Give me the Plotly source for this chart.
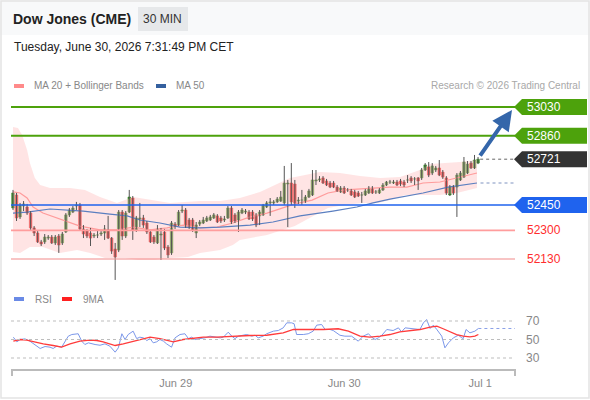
import plotly.graph_objects as go

# ---- candles, 30 min bars (index 0 = first bar on the chart) ----
opens = [
    52432, 52509, 52379, 52444, 52438, 52402, 52314, 52284, 52231, 52231,
    52254, 52260, 52225, 52266, 52225, 52290, 52391, 52408, 52444, 52450,
    52308, 52296, 52284, 52266, 52272, 52278, 52284, 52302, 52254, 52189,
    52183, 52408, 52266, 52408, 52491, 52302, 52367, 52373, 52343, 52290,
    52260, 52225, 52272, 52290, 52201, 52166, 52337, 52331, 52414, 52420,
    52361, 52361, 52284, 52337, 52343, 52355, 52361, 52373, 52385, 52373,
    52361, 52373, 52432, 52391, 52361, 52402, 52408, 52408, 52408, 52391,
    52385, 52391, 52438, 52462, 52462, 52468, 52473, 52462, 52574, 52580,
    52574, 52473, 52479, 52468, 52497, 52509, 52592, 52598, 52610, 52592,
    52580, 52580, 52556, 52527, 52550, 52539, 52533, 52527, 52521, 52509,
    52509, 52521, 52550, 52527, 52521, 52539, 52568, 52586, 52580, 52586,
    52592, 52586, 52598, 52610, 52604, 52610, 52610, 52657, 52675, 52639,
    52657, 52669, 52645, 52610, 52509, 52556, 52556, 52598, 52615, 52639,
    52698, 52669, 52698]
highs = [
    52539, 52521, 52462, 52473, 52456, 52414, 52325, 52296, 52243, 52278,
    52272, 52272, 52272, 52278, 52290, 52402, 52432, 52444, 52468, 52462,
    52331, 52308, 52314, 52284, 52296, 52302, 52331, 52385, 52260, 52225,
    52420, 52420, 52414, 52539, 52503, 52385, 52462, 52391, 52355, 52302,
    52272, 52331, 52314, 52308, 52213, 52355, 52349, 52420, 52450, 52432,
    52373, 52373, 52349, 52361, 52379, 52385, 52391, 52402, 52396, 52385,
    52385, 52444, 52444, 52402, 52420, 52432, 52426, 52420, 52420, 52402,
    52420, 52456, 52473, 52491, 52479, 52497, 52533, 52681, 52598, 52698,
    52598, 52497, 52539, 52509, 52545, 52657, 52657, 52621, 52621, 52604,
    52592, 52592, 52568, 52562, 52562, 52550, 52545, 52539, 52533, 52527,
    52545, 52562, 52562, 52539, 52550, 52580, 52592, 52598, 52598, 52598,
    52604, 52598, 52627, 52621, 52615, 52615, 52669, 52698, 52704, 52698,
    52681, 52716, 52657, 52621, 52568, 52568, 52639, 52651, 52734, 52710,
    52710, 52746, 52734]
lows = [
    52420, 52355, 52367, 52414, 52391, 52302, 52266, 52225, 52207, 52219,
    52243, 52219, 52213, 52166, 52213, 52284, 52379, 52402, 52420, 52296,
    52254, 52254, 52207, 52254, 52254, 52266, 52243, 52248, 52160, 52006,
    52171, 52243, 52254, 52402, 52243, 52290, 52319, 52314, 52278, 52225,
    52219, 52219, 52124, 52183, 52136, 52154, 52308, 52325, 52402, 52314,
    52308, 52290, 52254, 52325, 52337, 52349, 52355, 52367, 52343, 52343,
    52349, 52367, 52337, 52343, 52290, 52396, 52396, 52361, 52355, 52319,
    52331, 52385, 52432, 52385, 52450, 52462, 52468, 52450, 52319, 52450,
    52432, 52456, 52450, 52462, 52491, 52503, 52568, 52586, 52574, 52562,
    52550, 52550, 52527, 52521, 52515, 52527, 52503, 52491, 52497, 52462,
    52503, 52515, 52515, 52515, 52515, 52533, 52562, 52574, 52574, 52562,
    52562, 52556, 52580, 52580, 52568, 52539, 52598, 52651, 52615, 52627,
    52645, 52621, 52604, 52509, 52503, 52509, 52379, 52592, 52610, 52633,
    52663, 52663, 52692]
closes = [
    52521, 52373, 52450, 52456, 52402, 52314, 52284, 52231, 52219, 52260,
    52260, 52225, 52260, 52213, 52278, 52391, 52420, 52432, 52450, 52308,
    52278, 52266, 52254, 52272, 52272, 52284, 52308, 52254, 52177, 52142,
    52408, 52266, 52402, 52497, 52302, 52373, 52373, 52331, 52290, 52231,
    52231, 52308, 52278, 52195, 52154, 52343, 52325, 52408, 52420, 52325,
    52319, 52302, 52331, 52349, 52361, 52373, 52379, 52391, 52349, 52355,
    52367, 52432, 52349, 52355, 52408, 52420, 52414, 52367, 52367, 52331,
    52408, 52450, 52462, 52468, 52468, 52485, 52497, 52580, 52580, 52468,
    52462, 52479, 52479, 52497, 52533, 52598, 52598, 52604, 52580, 52568,
    52556, 52556, 52533, 52550, 52521, 52539, 52509, 52497, 52503, 52509,
    52533, 52550, 52521, 52527, 52539, 52568, 52586, 52586, 52586, 52568,
    52574, 52568, 52598, 52592, 52604, 52592, 52657, 52687, 52627, 52681,
    52669, 52627, 52615, 52521, 52556, 52521, 52627, 52639, 52704, 52692,
    52669, 52716, 52721]

# ---- Bollinger bands (MA 20) and MA 50, read at bar positions ----
bb_upper_x = [0, 1.4, 2.6, 4, 4.8, 6.2, 7.7, 10.5, 16.2, 20.4, 24.7, 29.5, 34.1, 38.9, 44.6, 48.8, 53.1,
              58.8, 64.4, 70.1, 74.4, 78.6, 81.5, 87.1, 92.8, 98.5, 104.2, 109.9, 115.5, 118.4, 122.6,
              126.9, 131.7]
bb_upper = [52912, 52906, 52864, 52775, 52698, 52610, 52568, 52550, 52550, 52539, 52497, 52462, 52497,
            52479, 52462, 52468, 52473, 52473, 52491, 52527, 52568, 52610, 52621, 52645, 52639, 52621,
            52610, 52615, 52657, 52692, 52698, 52704, 52716]
bb_lower_x = [0, 2, 4.8, 8.5, 13.3, 18.2, 21.9, 26.1, 31.8, 35.5, 40.3, 45.1, 49.7, 53.1, 58.8, 62.4,
              64.4, 72.1, 80, 84.9, 89.4, 94.2, 99.1, 103.6, 107, 111.3, 115.5, 121.2, 126, 131.7]
bb_lower = [52171, 52166, 52201, 52201, 52166, 52183, 52166, 52136, 52136, 52124, 52124, 52136, 52142,
            52166, 52183, 52213, 52243, 52272, 52325, 52379, 52432, 52450, 52462, 52462, 52479, 52509,
            52509, 52509, 52521, 52550]
ma20_x = [0, 2, 4, 5.7, 8.5, 12.5, 15.3, 19, 24.7, 29.5, 34.1, 38.9, 43.7, 48.3, 53.1, 57.9, 62.4,
          67.3, 72.1, 76.6, 80, 84.9, 89.4, 94.2, 99.1, 103.6, 107, 111.8, 116.4, 121.2, 126, 129.7, 131.7]
ma20 = [52527, 52521, 52491, 52438, 52402, 52373, 52349, 52325, 52302, 52302, 52319, 52302, 52314,
        52331, 52314, 52319, 52343, 52379, 52402, 52432, 52456, 52479, 52521, 52539, 52545, 52550,
        52556, 52556, 52580, 52586, 52610, 52627, 52639]
ma50_x = [0, 4, 10.5, 19.9, 27.5, 32.4, 36, 41.7, 47.4, 53.1, 58.8, 67.3, 73.8, 81.5, 90.8, 97.6,
          102.2, 107, 116.4, 123.5, 131.7]
ma50 = [52402, 52408, 52426, 52414, 52396, 52385, 52361, 52343, 52319, 52314, 52319, 52331, 52349,
        52385, 52414, 52438, 52462, 52485, 52521, 52556, 52580]

# ---- RSI and its 9 period MA ----
rsi_x = [0.1, 1.1, 2, 3.4, 4.8, 6.2, 7.7, 9.1, 10.5, 11.4, 12.4, 13.8, 14.8, 15.7, 16.7, 18.5, 19.5,
         20.4, 21.4, 22.3, 23.3, 24.7, 26.1, 27.5, 29, 29.9, 30.9, 31.8, 32.7, 34.1, 35.1, 36, 37, 38,
         38.9, 39.8, 40.8, 41.7, 42.7, 43.6, 45, 46, 47.4, 48.8, 49.8, 50.7, 51.7, 53.1, 54.5, 55.9,
         57.3, 58.8, 59.7, 61.1, 62.1, 63, 64, 64.9, 66.3, 67.8, 68.7, 69.6, 71, 72, 72.9, 73.9, 75.3,
         76.7, 77.7, 79.1, 79.8, 80.5, 82.4, 83.8, 85.2, 86.2, 87.6, 88.6, 90, 90.9, 92.8, 94.2, 96.1,
         98, 99.4, 100.9, 101.8, 102.8, 103.7, 104.7, 106.1, 107.9, 109.4, 110.3, 111.3, 113.2, 115.5,
         116.5, 117.4, 118.4, 119.3, 120.3, 121.7, 122.6, 123.6, 125, 126.4, 127.4, 127.8, 128.6,
         129.7, 131.1, 132.1]
rsi = [52.5, 47.5, 50, 50.7, 48.2, 44.6, 40.3, 42.4, 41.7, 40.3, 42.8, 41.7, 47.5, 53.6, 55.4, 56.2,
       48.2, 44.6, 46.4, 45.3, 44.6, 43.8, 45.3, 42.8, 36.3, 41, 56.2, 50, 55.4, 59, 51, 52.5, 51.8,
       48.9, 51, 46.4, 47.5, 50, 48.2, 45.3, 41.7, 51.8, 55.4, 56.2, 51, 52.5, 50, 51, 51.8, 53.6,
       52.5, 51.8, 52.5, 57.9, 53.6, 51, 53.6, 54.6, 55.4, 53.6, 54.6, 51.8, 53.6, 56.2, 57.2, 59,
       59.7, 62.6, 68, 68, 67, 55.4, 55.4, 56.2, 59, 65.5, 66.2, 60.8, 60.8, 59.7, 54.6, 53.6, 53.6,
       48.2, 53.6, 56.2, 52.5, 50, 51.8, 54.6, 60.8, 59.7, 62.6, 58.3, 62.6, 61.9, 60.8, 68, 71.6,
       61.9, 65.5, 60.8, 53.6, 41, 46.4, 51.8, 54.6, 51.8, 51, 60.8, 57.2, 59, 61.9]
rsi_ma_x = [0.1, 2, 3.9, 5.8, 8.6, 11.4, 13.8, 16.2, 19, 21.9, 23.8, 25.6, 29, 31.3, 34.1, 37, 38.9,
            41.7, 45.5, 48.3, 51.2, 54, 57.8, 62.5, 67.3, 72, 76.7, 79.6, 83.4, 88.1, 92.3, 95.2,
            98.5, 101.3, 104.2, 107, 109.8, 112.7, 115.5, 118.4, 120.3, 122.1, 124, 125.9, 127.8,
            129.7, 131.1, 132.1]
rsi_ma = [48.2, 50, 49.3, 47.5, 45.3, 43.5, 41.7, 45.3, 48.2, 49.3, 48.9, 47.5, 43.5, 45.3, 48.2, 51,
          52.5, 51, 47.5, 50, 51, 52.5, 52.5, 53.6, 54.3, 54.6, 57.2, 61, 60.8, 60.8, 61.6, 59, 53.6,
          52.5, 53.6, 55.4, 58.3, 59.7, 60.8, 63.3, 64.4, 61.6, 58.3, 55.4, 53.6, 52.9, 53.6, 55.4]
rsi_levels = [70, 50, 30]

# ---- key levels and time axis ----
resistances = [53030, 52860]
pivot = 52450
supports = [52300, 52130]
tick_pos = [46.2, 94, 132.6]
tick_labels = ['Jun 29', 'Jun 30', 'Jul 1']

# ---- page geometry (590 x 400, margins are zero so paper == pixels) ----
W, H = 590, 400
FONT = 'Liberation Sans, Arial, sans-serif'
X0_PX, STEP = 13, 3.523            # first bar at x=13 px, 3.523 px per bar
Y_REF_PX, Y_REF_P, PPX = 107, 53030, 5.921   # price per pixel


def ix(px):
    return (px - X0_PX) / STEP


def price_at(py):
    return Y_REF_P - (py - Y_REF_PX) * PPX


def rsi_at(py):
    return 70 - (py - 321) / 0.925


def yp(py):
    return 1 - py / H


def xp(px):
    return px / W


GREEN_LVL = '#4da20c'
BLUE_LVL = '#1f63ee'
LINE_END = ix(515)
LINE_START = ix(11)

idx = list(range(len(closes)))
body_col = ['#2f8a1f' if c >= o else '#e01b1b' for o, c in zip(opens, closes)]

wick_x, wick_y = [], []
for i, lo, hi in zip(idx, lows, highs):
    wick_x += [i, i, None]
    wick_y += [lo, hi, None]

fig = go.Figure()

# bollinger band area
fig.add_trace(go.Scatter(x=bb_upper_x, y=bb_upper, mode='lines', line=dict(width=0),
                         hoverinfo='skip'))
fig.add_trace(go.Scatter(x=bb_lower_x, y=bb_lower, mode='lines', line=dict(width=0),
                         fill='tonexty', fillcolor='rgba(255,190,190,0.42)', hoverinfo='skip'))
fig.add_trace(go.Scatter(x=ma20_x, y=ma20, mode='lines', line=dict(color='#ff9b9b', width=1.2)))
fig.add_trace(go.Scatter(x=ma50_x, y=ma50, mode='lines', line=dict(color='#5b7fc0', width=1.2)))

# candles: wicks then bodies
fig.add_trace(go.Scatter(x=wick_x, y=wick_y, mode='lines', line=dict(color='#555555', width=1)))
fig.add_trace(go.Bar(x=idx, y=[c - o for o, c in zip(opens, closes)], base=opens, width=0.72,
                     marker=dict(color=body_col, line=dict(color=body_col, width=0.6))))

# RSI panel
fig.add_trace(go.Scatter(x=rsi_x, y=rsi, mode='lines', line=dict(color='#7b97ea', width=1),
                         xaxis='x2', yaxis='y2'))
fig.add_trace(go.Scatter(x=rsi_ma_x, y=rsi_ma, mode='lines', line=dict(color='#ff3b3b', width=1.3),
                         xaxis='x2', yaxis='y2'))

shapes = []
annotations = []

# page frame and header band
shapes.append(dict(type='rect', xref='paper', yref='paper', x0=0, x1=1, y0=yp(35), y1=1,
                   fillcolor='#f8f9fa', line=dict(width=0), layer='below'))
shapes.append(dict(type='rect', xref='paper', yref='paper', x0=xp(1), x1=xp(589), y0=yp(398), y1=yp(1),
                   line=dict(color='#e4e4e4', width=1.5), layer='above'))
shapes.append(dict(type='rect', xref='paper', yref='paper', x0=xp(138), x1=xp(188), y0=yp(31), y1=yp(7),
                   fillcolor='#e6e8ea', line=dict(width=0), layer='below'))

annotations += [
    dict(text='<b>Dow Jones (CME)</b>', x=xp(11), y=yp(19), xref='paper', yref='paper',
         xanchor='left', yanchor='middle', showarrow=False, font=dict(size=14, color='#222')),
    dict(text='30 MIN', x=xp(163), y=yp(19), xref='paper', yref='paper',
         xanchor='center', yanchor='middle', showarrow=False, font=dict(size=12, color='#333')),
    dict(text='Tuesday, June 30, 2026 7:31:49 PM CET', x=xp(12), y=yp(47), xref='paper', yref='paper',
         xanchor='left', yanchor='middle', showarrow=False, font=dict(size=12, color='#222')),
    dict(text='Research © 2026 Trading Central', x=xp(582), y=yp(86), xref='paper', yref='paper',
         xanchor='right', yanchor='middle', showarrow=False, font=dict(size=10, color='#a8a8a8')),
]

# legends
for x0, col, label in [(14, '#ff8a8a', 'MA 20 + Bollinger Bands'), (156, '#34609f', 'MA 50')]:
    shapes.append(dict(type='rect', xref='paper', yref='paper', x0=xp(x0), x1=xp(x0 + 10),
                       y0=yp(88), y1=yp(84), fillcolor=col, line=dict(width=0)))
    annotations.append(dict(text=label, x=xp(x0 + 18), y=yp(86), xref='paper', yref='paper',
                            xanchor='left', yanchor='middle', showarrow=False,
                            font=dict(size=10, color='#888')))
for x0, col, label in [(14, '#6a8ae6', 'RSI'), (62, '#ff2020', '9MA')]:
    shapes.append(dict(type='rect', xref='paper', yref='paper', x0=xp(x0), x1=xp(x0 + 10),
                       y0=yp(301), y1=yp(297), fillcolor=col, line=dict(width=0)))
    annotations.append(dict(text=label, x=xp(x0 + 19), y=yp(299), xref='paper', yref='paper',
                            xanchor='left', yanchor='middle', showarrow=False,
                            font=dict(size=10, color='#888')))


def hline(y, color, width, dash='solid', x0=LINE_START, x1=LINE_END, xref='x', yref='y'):
    return dict(type='line', xref=xref, yref=yref, x0=x0, x1=x1, y0=y, y1=y,
                line=dict(color=color, width=width, dash=dash), layer='above')


def tag(price, color):
    # arrow shaped price label on the right edge
    h = 8 * PPX
    tip, left, right = ix(514), ix(522), ix(587)
    shapes.append(dict(type='path', xref='x', yref='y', fillcolor=color, line=dict(width=0),
                       path=f'M {tip},{price} L {left},{price + h} L {right},{price + h} '
                            f'L {right},{price - h} L {left},{price - h} Z', layer='above'))
    annotations.append(dict(text=str(price), x=ix(525), y=price, xref='x', yref='y',
                            xanchor='left', yanchor='middle', showarrow=False,
                            font=dict(size=12, color='white')))


for r in resistances:
    shapes.append(hline(r, GREEN_LVL, 2))
    tag(r, GREEN_LVL)
shapes.append(hline(pivot, BLUE_LVL, 1.4))
tag(pivot, BLUE_LVL)
shapes.append(hline(closes[-1], '#666', 1, 'dot', x0=idx[-1] + 0.6))
tag(closes[-1], '#333333')
shapes.append(hline(ma50[-1], '#7f93c0', 1, 'dot', x0=ma50_x[-1] + 1))
shapes.append(hline(supports[0], '#ff9d9d', 1.8))
shapes.append(hline(supports[1], '#f28a8a', 1.2))
for s in supports:
    annotations.append(dict(text=str(s), x=ix(525), y=s, xref='x', yref='y', xanchor='left',
                            yanchor='middle', showarrow=False, font=dict(size=12, color='#ff2d2d')))

# projection arrow toward the first resistance
annotations.append(dict(x=ix(512), y=resistances[0] - 3 * PPX, ax=idx[-1] + 0.3, ay=closes[-1] + 2 * PPX,
                        xref='x', yref='y', axref='x', ayref='y', text='', showarrow=True,
                        arrowhead=2, arrowsize=1, arrowwidth=4, arrowcolor='#3466aa'))

# RSI grid and labels
for lv in rsi_levels:
    shapes.append(hline(lv, '#bdbdbd', 1, 'dot', xref='x2', yref='y2'))
    annotations.append(dict(text=str(lv), x=ix(524), y=lv, xref='x2', yref='y2', xanchor='left',
                            yanchor='middle', showarrow=False, font=dict(size=12, color='#888')))
shapes.append(hline(rsi[-1], '#8aa0e8', 1, 'dot', x0=rsi_x[-1], xref='x2', yref='y2'))

# bottom time axis line with end ticks
shapes.append(dict(type='line', xref='paper', yref='paper', x0=xp(11), x1=xp(516), y0=yp(370), y1=yp(370),
                   line=dict(color='#bbbbbb', width=2)))
for tx in (12, 515):
    shapes.append(dict(type='line', xref='paper', yref='paper', x0=xp(tx), x1=xp(tx), y0=yp(369),
                       y1=yp(376), line=dict(color='#bbbbbb', width=2)))

fig.update_layout(
    width=W, height=H, template='none', showlegend=False, hovermode=False,
    margin=dict(l=0, r=0, t=0, b=0, pad=0),
    paper_bgcolor='white', plot_bgcolor='rgba(0,0,0,0)',
    font=dict(family=FONT, color='#333'),
    barmode='overlay',
    xaxis=dict(range=[ix(0), ix(W)], visible=False, domain=[0, 1], anchor='y'),
    yaxis=dict(range=[price_at(285), price_at(95)], visible=False, domain=[yp(285), yp(95)]),
    xaxis2=dict(range=[ix(0), ix(W)], matches='x', anchor='y2', domain=[0, 1], showgrid=False,
                zeroline=False, showline=False, ticks='', tickmode='array', tickvals=tick_pos,
                ticktext=tick_labels, tickfont=dict(size=11, color='#888'), automargin=False,
                ticklabelstandoff=5),
    yaxis2=dict(range=[rsi_at(370), rsi_at(312)], visible=False, domain=[yp(370), yp(312)]),
    shapes=shapes,
    annotations=annotations,
)

# the page body has an 8px default margin; drop it so the figure fills the window
fig.write_html('out.html', config={'displayModeBar': False},
               post_script="document.body.style.margin='0px';")
